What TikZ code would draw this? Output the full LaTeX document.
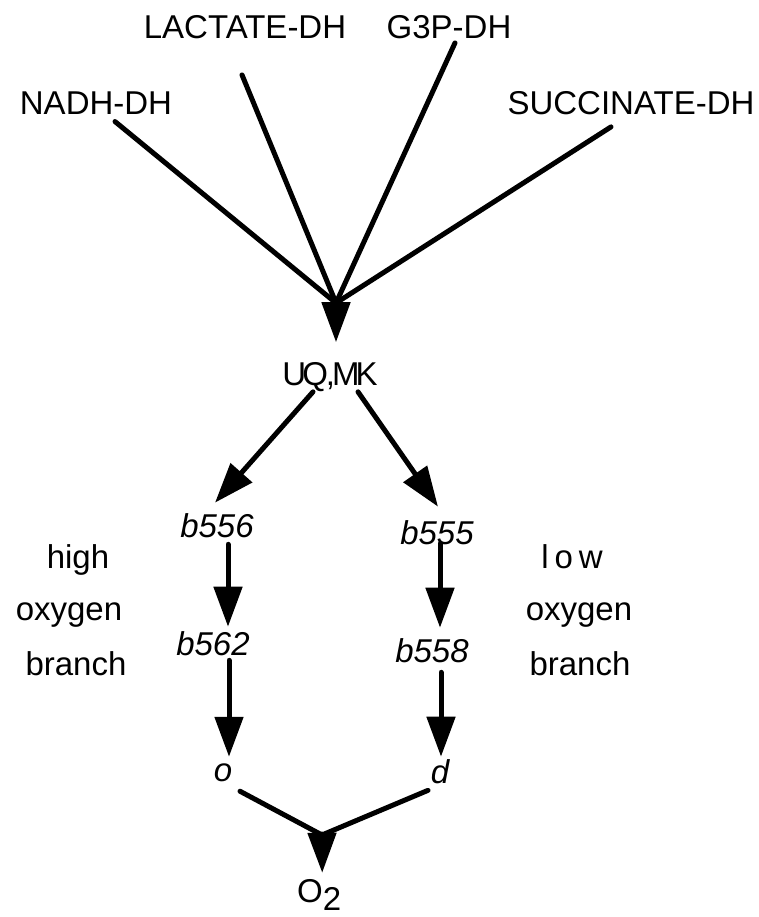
\documentclass[tikz,border=0pt]{standalone}
\usepackage{fontspec}
\setmainfont{Liberation Sans}
\usetikzlibrary{arrows.meta}
\begin{document}
\begin{tikzpicture}[x=1pt,y=-1pt,
  lbl/.style={inner sep=0pt, font=\fontsize{33}{40}\selectfont},
  itl/.style={inner sep=0pt, font=\fontsize{33}{40}\selectfont\itshape},
  conn/.style={line width=5pt, line cap=round},
  arr/.style={conn, -{Triangle[length=40pt,width=28pt]}}]
\useasboundingbox (0,0) rectangle (758,917);
% top labels
\node[lbl] (nadh) at (96,103) {NADH-DH};
\node[lbl] (lact) at (245,27) {LACTATE-DH};
\node[lbl] (g3p) at (449,27) {G3P-DH};
\node[lbl] (succ) at (631,103) {SUCCINATE-DH};
\coordinate (conv) at (336,303);
\node[lbl] (uq) at (330,377) {U\kern-4pt Q\kern-2pt ,\kern-3pt M\kern-4pt K};
% branches
\node[itl] (b556) at (217,526) {b556};
\node[itl] (b555) at (437,533) {b555};
\node[itl] (b562) at (213,644) {b562};
\node[itl] (b558) at (432,651) {b558};
\node[itl] (o) at (223,773) {o};
\node[itl] (d) at (440,772) {d};
\coordinate (conv2) at (322,835);
\node[lbl, anchor=base west] (o2) at (297,902) {O\raisebox{-8pt}{2}};
% side labels
\node[lbl, anchor=base] (high) at (78,568) {high};
\node[lbl, anchor=base] (oxl) at (69,620) {oxygen};
\node[lbl, anchor=base] (brl) at (76,675) {branch};
\node[lbl, anchor=base] (low) at (572,568) {l\kern6pt o\kern6pt w};
\node[lbl, anchor=base] (oxr) at (579,620) {oxygen};
\node[lbl, anchor=base] (brr) at (580,675) {branch};
% connectors to UQ,MK
\draw[conn] ([xshift=19pt,yshift=-7pt]nadh.south) -- (conv);
\draw[conn] ([xshift=-3pt,yshift=-36pt]lact.south) -- (conv);
\draw[conn] ([xshift=6pt,yshift=-4pt]g3p.south) -- (conv);
\draw[conn] ([xshift=-20pt,yshift=-12pt]succ.south) -- (conv);
\draw[arr] (conv) -- ([xshift=6pt,yshift=20pt]uq.north);
% branches
\draw[arr] ([xshift=-17pt]uq.south) -- ([xshift=-2pt,yshift=11pt]b556.north);
\draw[arr] ([xshift=28pt]uq.south) -- ([xshift=1pt,yshift=14pt]b555.north);
\draw[arr] ([xshift=11pt,yshift=-6pt]b556.south) -- ([xshift=15pt,yshift=5pt]b562.north);
\draw[arr] ([xshift=3pt,yshift=2pt]b555.south) -- ([xshift=8pt,yshift=11pt]b558.north);
\draw[arr] ([xshift=16pt,yshift=-4pt]b562.south) -- ([xshift=6pt,yshift=7pt]o.north);
\draw[arr] ([xshift=9pt,yshift=-9pt]b558.south) -- ([xshift=1pt,yshift=3pt]d.north);
\draw[conn] ([xshift=17pt,yshift=-9pt]o.south) -- (conv2);
\draw[conn] ([xshift=-12pt,yshift=-6pt]d.south) -- (conv2);
\draw[arr] (conv2) -- ([xshift=3pt,yshift=6pt]o2.north);
\end{tikzpicture}
\end{document}
